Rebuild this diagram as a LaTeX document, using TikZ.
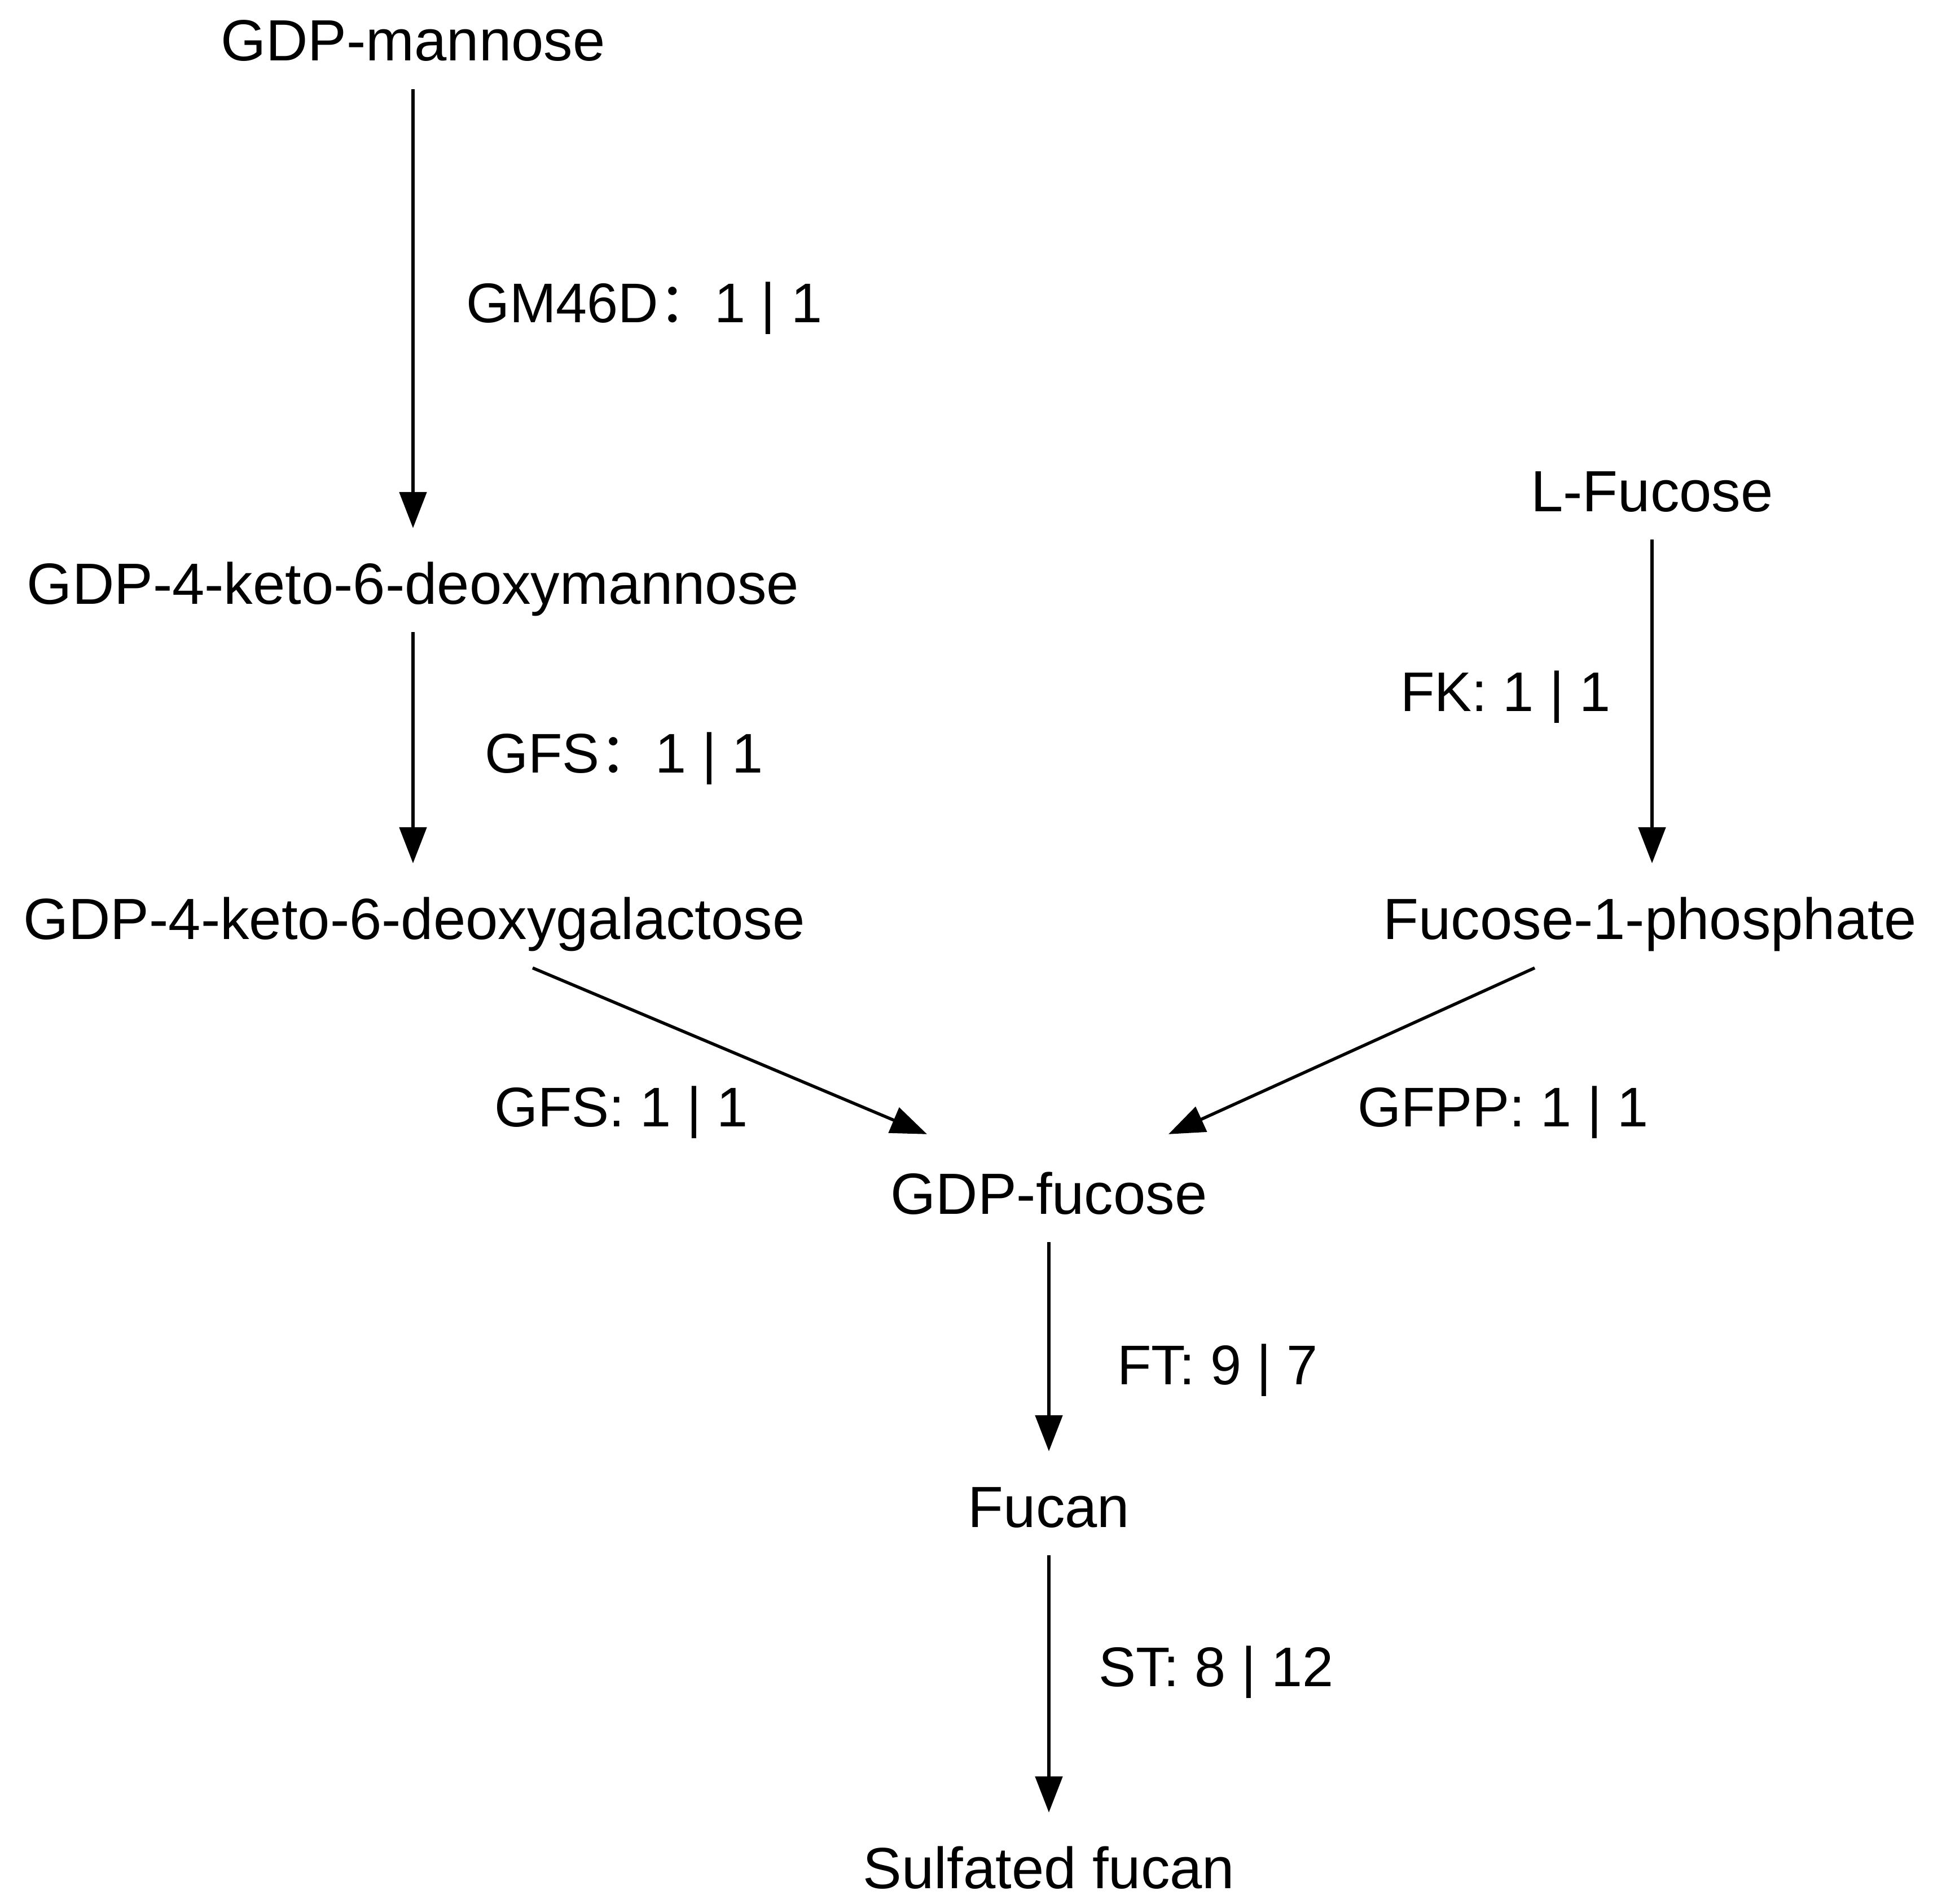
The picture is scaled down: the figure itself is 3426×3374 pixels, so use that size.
\documentclass[tikz,border=0pt]{standalone}
\usepackage{fontspec}
\setmainfont{Liberation Sans}
\newfontfamily\cjk{Noto Sans CJK SC}
\usetikzlibrary{arrows.meta}
\begin{document}
\begin{tikzpicture}[x=1pt,y=-1pt,
  every node/.style={inner sep=0pt},
  mol/.style={anchor=base, text height=72pt, text depth=0pt, font=\fontsize{103}{123}\selectfont},
  lab/.style={anchor=base west, font=\fontsize{99}{119}\selectfont},
  arr/.style={line width=5.5pt, -{Triangle[length=64pt,width=48pt]}},
  varr/.style={arr, shorten <=50pt, shorten >=62pt}]
\useasboundingbox[fill=white] (0,0) rectangle (3426,3374);
% molecules
\node[mol] (man) at (732,108) {GDP-mannose};
\node[mol] (ketoman) at (732,1070) {GDP-4-keto-6-deoxymannose};
\node[mol] (ketogal) at (734,1664) {GDP-4-keto-6-deoxygalactose};
\node[mol] (gdpfuc) at (1859,2151) {GDP-fucose};
\node[mol] (lfuc) at (2928,906) {L-Fucose};
\node[mol] (fucp) at (2924,1664) {Fucose-1-phosphate};
\node[mol] (fucan) at (1859,2706) {Fucan};
\node[mol] (sfucan) at (1859,3346) {Sulfated fucan};
% labels
\node[lab] (l1) at (826,571) {GM46D{\cjk ：}1 | 1};
\node[lab] (l2) at (859,1369) {GFS{\cjk ：}1 | 1};
\node[lab] (l3) at (876,1996) {GFS: 1 | 1};
\node[lab] (l4) at (2482,1260) {FK: 1 | 1};
\node[lab] (l5) at (2406,1996) {GFPP: 1 | 1};
\node[lab] (l6) at (1980,2453) {FT: 9 | 7};
\node[lab] (l7) at (1947,2988) {ST: 8 | 12};
% connectors
\draw[varr] (man.south) -- (ketoman.north);
\draw[varr] (ketoman.south) -- (ketoman.south |- ketogal.north);
\draw[varr] (lfuc.south) -- (lfuc.south |- fucp.north);
\draw[varr] (gdpfuc.south) -- (fucan.north);
\draw[varr] (fucan.south) -- (sfucan.north);
\draw[arr] ([shift={(210,51)}]ketogal.south) -- ([shift={(-216,-69)}]gdpfuc.north);
\draw[arr] ([shift={(-204,51)}]fucp.south) -- ([shift={(212,-69)}]gdpfuc.north);
\end{tikzpicture}
\end{document}
